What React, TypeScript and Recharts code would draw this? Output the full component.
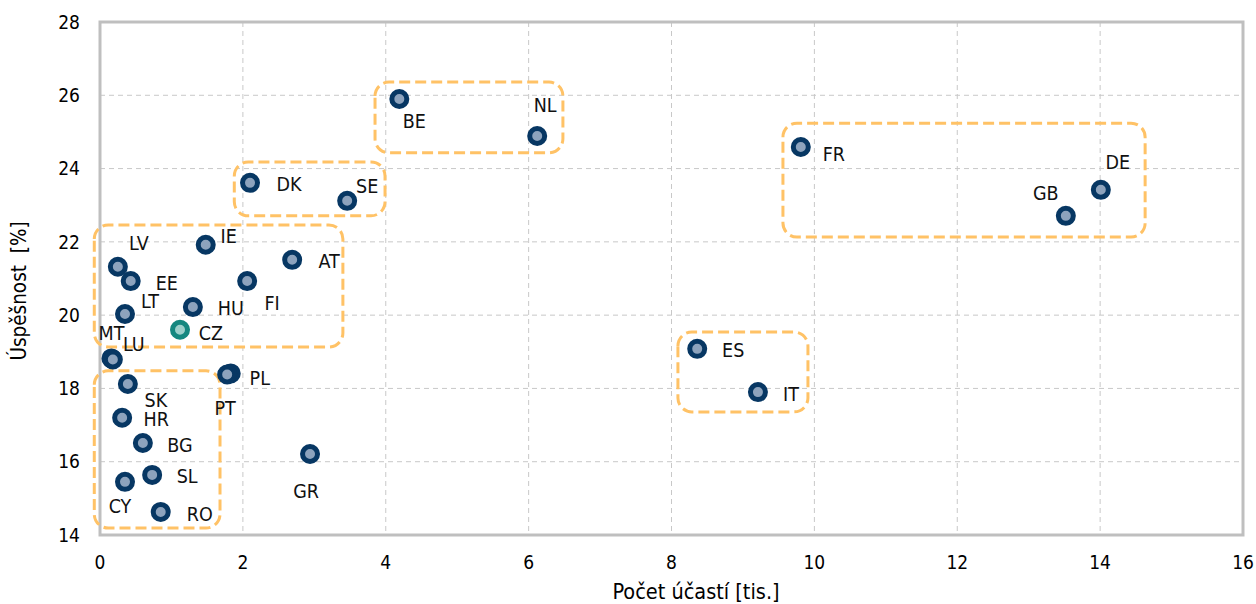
import React from 'react';
import { ScatterChart, Scatter, XAxis, YAxis, CartesianGrid, ReferenceArea } from 'recharts';

const countries = ['BE', 'NL', 'DK', 'SE', 'FR', 'DE', 'GB', 'IE', 'LV', 'EE', 'AT', 'FI', 'LT', 'HU', 'CZ', 'MT', 'LU', 'PL', 'PT', 'SK', 'HR', 'BG', 'SL', 'CY', 'RO', 'GR', 'ES', 'IT'];
const participations = [4.19, 6.12, 2.1, 3.46, 9.81, 14.01, 13.52, 1.48, 0.25, 0.43, 2.69, 2.06, 0.35, 1.3, 1.12, 0.16, 0.18, 1.83, 1.78, 0.39, 0.31, 0.6, 0.73, 0.35, 0.85, 2.94, 8.36, 9.21];
const successRate = [25.9, 24.89, 23.61, 23.12, 24.59, 23.42, 22.71, 21.92, 21.32, 20.93, 21.51, 20.93, 20.03, 20.22, 19.6, 18.82, 18.79, 18.41, 18.38, 18.12, 17.2, 16.51, 15.64, 15.45, 14.63, 16.21, 19.08, 17.9];
const highlighted = ['CZ'];

const xTicks = [0, 2, 4, 6, 8, 10, 12, 14, 16];
const yTicks = [14, 16, 18, 20, 22, 24, 26, 28];

// group frames (data coordinates)
const groupXFrom = [3.85, 1.88, 9.56, -0.08, -0.08, 8.09];
const groupXTo = [6.48, 3.99, 14.63, 3.4, 1.68, 9.91];
const groupYFrom = [24.43, 22.71, 22.13, 19.13, 14.19, 17.36];
const groupYTo = [26.36, 24.18, 25.24, 22.46, 18.48, 19.54];

// label placement relative to marker (px)
const labelOffsets: Record<string, [number, number]> = {
  BE: [15, 23], NL: [8, -30], DK: [39, 2], SE: [20, -14], FR: [33, 8], DE: [17, -27], GB: [-20, -22],
  IE: [23, -8], LV: [21, -23], EE: [36, 2], AT: [37, 2], FI: [25, 22], LT: [25, -13], HU: [38, 1],
  CZ: [31, 4], MT: [0, -25], LU: [21, -15], PL: [29, 5], PT: [-2, 34], SK: [28, 16], HR: [34, 2],
  BG: [37, 2], SL: [35, 2], CY: [-5, 25], RO: [39, 3], GR: [-4, 37], ES: [36, 2], IT: [33, 2],
};

const data = countries.map((c, i) => ({ code: c, x: participations[i], y: successRate[i] }));
const groups = groupXFrom.map((x1, i) => ({ x1, x2: groupXTo[i], y1: groupYFrom[i], y2: groupYTo[i] }));

const FONT = '"DejaVu Sans Condensed", "DejaVu Sans", Verdana, sans-serif';

const Marker = (props: any) => {
  const { cx, cy, payload } = props;
  const hl = highlighted.includes(payload.code);
  const [dx, dy] = labelOffsets[payload.code] || [20, 0];
  return (
    <g>
      <circle cx={cx} cy={cy} r={7.5} fill={hl ? '#9BCFCA' : '#8DA3BD'} stroke={hl ? '#14877F' : '#073763'} strokeWidth={5} />
      <text x={cx + dx} y={cy + dy} textAnchor="middle" dominantBaseline="central" fontSize={19.5} fontFamily={FONT} fill="#111">
        {payload.code}
      </text>
    </g>
  );
};

export default function App() {
  return (
    <div style={{ position: 'fixed', left: 0, top: 0, width: 1256, height: 604, background: '#fff' }}>
      <ScatterChart width={1256} height={604} margin={{ top: 22, right: 13, left: 0, bottom: 0 }}>
        <CartesianGrid stroke="#C8C8C8" strokeDasharray="5 4" strokeWidth={1} />
        <XAxis
          type="number"
          dataKey="x"
          domain={[0, 16]}
          ticks={xTicks}
          height={69}
          tickLine={false}
          tickSize={0}
          tickMargin={21}
          axisLine={false}
          tick={{ fill: '#000', fontSize: 19, fontFamily: FONT }}
          label={{
            content: () => (
              <text x={696} y={591} textAnchor="middle" dominantBaseline="central" fontSize={21.5} fontFamily={FONT} fill="#000">
                Počet účastí [tis.]
              </text>
            ),
          }}
        />
        <YAxis
          type="number"
          dataKey="y"
          domain={[14, 28]}
          ticks={yTicks}
          width={100}
          tickLine={false}
          tickSize={0}
          tickMargin={20}
          axisLine={false}
          tick={{ fill: '#000', fontSize: 19, fontFamily: FONT }}
          label={{
            content: () => (
              <text
                x={19}
                y={291}
                transform="rotate(-90 19 291)"
                textAnchor="middle"
                dominantBaseline="central"
                fontSize={20.5}
                fontFamily={FONT}
                fill="#000"
                style={{ whiteSpace: 'pre' }}
              >
                Úspěšnost  [%]
              </text>
            ),
          }}
        />
        <ReferenceArea x1={0} x2={16} y1={14} y2={28} fill="none" stroke="#BFBFBF" strokeWidth={3} />
        {groups.map((g, i) => (
          <ReferenceArea
            key={i}
            x1={g.x1}
            x2={g.x2}
            y1={g.y1}
            y2={g.y2}
            ifOverflow="visible"
            fill="none"
            stroke="#FFC266"
            strokeWidth={3}
            strokeDasharray="11 5"
            radius={14}
          />
        ))}
        <Scatter data={data} shape={Marker} isAnimationActive={false} />
      </ScatterChart>
    </div>
  );
}
